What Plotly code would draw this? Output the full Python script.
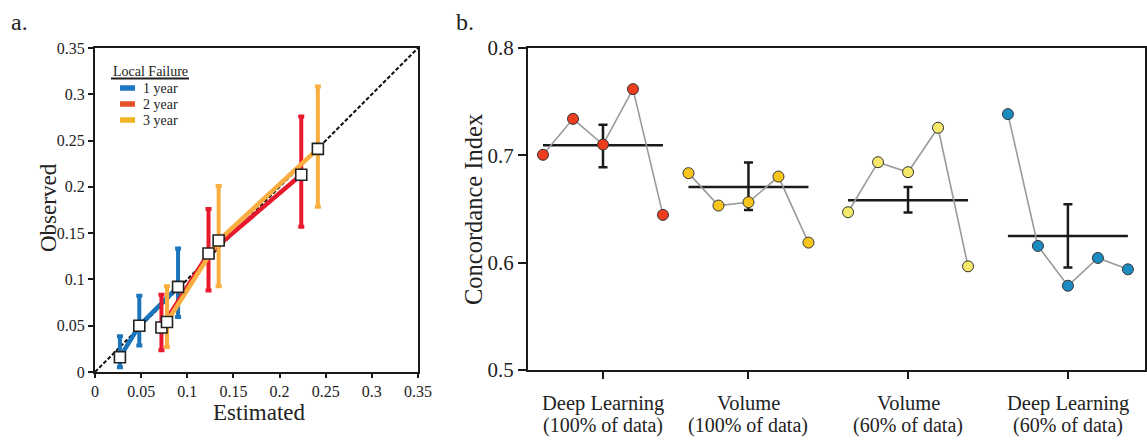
import plotly.graph_objects as go

# ---------------- Panel a: calibration ----------------
series_names = ["1 year", "2 year", "3 year"]
est = [
    [0.027, 0.048, 0.090],
    [0.072, 0.123, 0.2235],
    [0.078, 0.134, 0.2415],
]
obs = [
    [0.016, 0.050, 0.092],
    [0.048, 0.128, 0.213],
    [0.054, 0.142, 0.241],
]
obs_hi = [
    [0.0385, 0.0825, 0.1335],
    [0.0835, 0.176, 0.276],
    [0.0925, 0.201, 0.3085],
]
obs_lo = [
    [0.005, 0.0285, 0.0595],
    [0.0235, 0.088, 0.157],
    [0.027, 0.0925, 0.1785],
]
line_colors = ["#1B75BC", "#E8192C", "#FBAE40"]
legend_colors = ["#1F78C4", "#E2532D", "#EFB324"]
diag = [0, 0.35]
a_ticks = [0, 0.05, 0.1, 0.15, 0.2, 0.25, 0.3, 0.35]

# ---------------- Panel b: concordance ----------------
group_line1 = ["Deep Learning", "Volume", "Volume", "Deep Learning"]
group_line2 = ["(100% of data)", "(100% of data)", "(60% of data)", "(60% of data)"]
group_start = [0.5, 5.35, 10.67, 16.0]
cindex = [
    [0.7005, 0.734, 0.710, 0.7617, 0.6445],
    [0.6834, 0.6532, 0.6563, 0.6802, 0.6187],
    [0.647, 0.6936, 0.6843, 0.7257, 0.5966],
    [0.7384, 0.6156, 0.5785, 0.6044, 0.5938],
]
means = [0.7095, 0.6706, 0.6582, 0.6249]
err_hi = [0.7285, 0.6933, 0.6706, 0.6544]
err_lo = [0.689, 0.6491, 0.6467, 0.5956]
dot_colors = ["#EC3E1F", "#F8C51C", "#F6E86A", "#1C8BC2"]
b_ticks = [0.5, 0.6, 0.7, 0.8]

FONT = "Liberation Serif, Times New Roman, serif"
W, H = 1147, 441
fig = go.Figure()

# diagonal reference
fig.add_trace(go.Scatter(x=diag, y=diag, mode="lines",
                         line=dict(color="#111", width=2, dash="4px,2px"),
                         showlegend=False, hoverinfo="skip",
                         xaxis="x", yaxis="y"))

for i in range(3):
    hi = [h - o for h, o in zip(obs_hi[i], obs[i])]
    lo = [o - l for o, l in zip(obs[i], obs_lo[i])]
    fig.add_trace(go.Scatter(
        x=est[i], y=obs[i], mode="lines", name=series_names[i],
        line=dict(color=line_colors[i], width=4.5),
        error_y=dict(type="data", symmetric=False, array=hi, arrayminus=lo,
                     color=line_colors[i], thickness=4, width=3),
        showlegend=False, xaxis="x", yaxis="y"))

for i in range(3):
    fig.add_trace(go.Scatter(
        x=est[i], y=obs[i], mode="markers",
        marker=dict(symbol="square", size=11, color="white",
                    line=dict(color="#222", width=1.6)),
        showlegend=False, cliponaxis=False, xaxis="x", yaxis="y"))

# panel b
centers = []
for g in range(4):
    xs = [group_start[g] + j for j in range(len(cindex[g]))]
    xc = xs[len(xs) // 2]
    centers.append(xc)
    fig.add_trace(go.Scatter(
        x=[xs[0], xs[-1]], y=[means[g], means[g]], mode="lines",
        line=dict(color="#1a1a1a", width=2.5),
        showlegend=False, xaxis="x2", yaxis="y2"))
    fig.add_trace(go.Scatter(
        x=[xc], y=[means[g]], mode="markers", marker=dict(size=1, opacity=0),
        error_y=dict(type="data", symmetric=False,
                     array=[err_hi[g] - means[g]],
                     arrayminus=[means[g] - err_lo[g]],
                     color="#1a1a1a", thickness=2.5, width=4.5),
        showlegend=False, xaxis="x2", yaxis="y2"))
    fig.add_trace(go.Scatter(
        x=xs, y=cindex[g], mode="lines+markers",
        line=dict(color="#9a9a9a", width=1.6),
        marker=dict(size=11, color=dot_colors[g],
                    line=dict(color="#333", width=1)),
        showlegend=False, xaxis="x2", yaxis="y2"))

axis_common = dict(showline=True, mirror=True, linecolor="#1a1a1a", linewidth=2,
                   ticks="outside", tickcolor="#1a1a1a", tickwidth=1.5,
                   showgrid=False, zeroline=False, automargin=False)


def txt(text, x, y, size, xanchor="center", yanchor="middle", xref="paper", angle=0):
    return dict(text=text, x=x, y=y, xref=xref, yref="paper", xanchor=xanchor,
                yanchor=yanchor, showarrow=False, textangle=angle,
                font=dict(size=size, family=FONT, color="#222"))


annotations = [
    txt("a.", 9 / W, 1 - 22 / H, 24, xanchor="left"),
    txt("b.", 454 / W, 1 - 22 / H, 24, xanchor="left"),
    txt("Estimated", 259 / W, 1 - 412 / H, 23),
    txt("Observed", 48 / W, 1 - 208 / H, 23, angle=-90),
    txt("Concordance Index", 473 / W, 1 - 210 / H, 24.5, angle=-90),
    txt("Local Failure", 150 / W, 1 - 71 / H, 14),
]
legend_y = [88, 104, 120]
shapes = [
    dict(type="line", xref="paper", yref="paper", x0=111 / W, x1=189 / W,
         y0=1 - 78.5 / H, y1=1 - 78.5 / H, line=dict(color="#222", width=1.8)),
]
for i in range(3):
    annotations.append(txt(series_names[i], 141 / W, 1 - legend_y[i] / H, 14,
                           xanchor="left"))
    shapes.append(dict(type="line", xref="paper", yref="paper",
                       x0=120 / W, x1=135 / W,
                       y0=1 - legend_y[i] / H, y1=1 - legend_y[i] / H,
                       line=dict(color=legend_colors[i], width=5.5)))
for g in range(4):
    annotations.append(txt(group_line1[g], centers[g], 1 - 403 / H, 20.5, xref="x2"))
    annotations.append(txt(group_line2[g], centers[g], 1 - 425 / H, 20, xref="x2"))

fig.update_layout(
    width=W, height=H,
    margin=dict(l=0, r=0, t=0, b=0),
    paper_bgcolor="white", plot_bgcolor="white",
    font=dict(family=FONT, color="#222"),
    showlegend=False,
    xaxis=dict(domain=[95 / W, 418 / W], range=[0, 0.35],
               tickvals=a_ticks, ticklen=4, anchor="y",
               tickfont=dict(size=16), **axis_common),
    yaxis=dict(domain=[1 - 372 / H, 1 - 48 / H], range=[0, 0.35],
               tickvals=a_ticks, ticklen=5, anchor="x",
               tickfont=dict(size=16), **axis_common),
    xaxis2=dict(domain=[528 / W, 1145 / W], range=[0, 20.57],
                tickvals=centers, ticktext=["" for _ in centers], ticklen=7,
                anchor="y2", **axis_common),
    yaxis2=dict(domain=[1 - 370 / H, 1 - 48 / H], range=[0.5, 0.8],
                tickvals=b_ticks, tickformat=".1f", ticklen=8, anchor="x2",
                tickfont=dict(size=21), **axis_common),
    annotations=annotations,
    shapes=shapes,
)

fig.write_html(
    "out.html",
    config={"displayModeBar": False},
    post_script="document.body.style.margin='0px';"
                "document.body.style.overflow='hidden';",
)
